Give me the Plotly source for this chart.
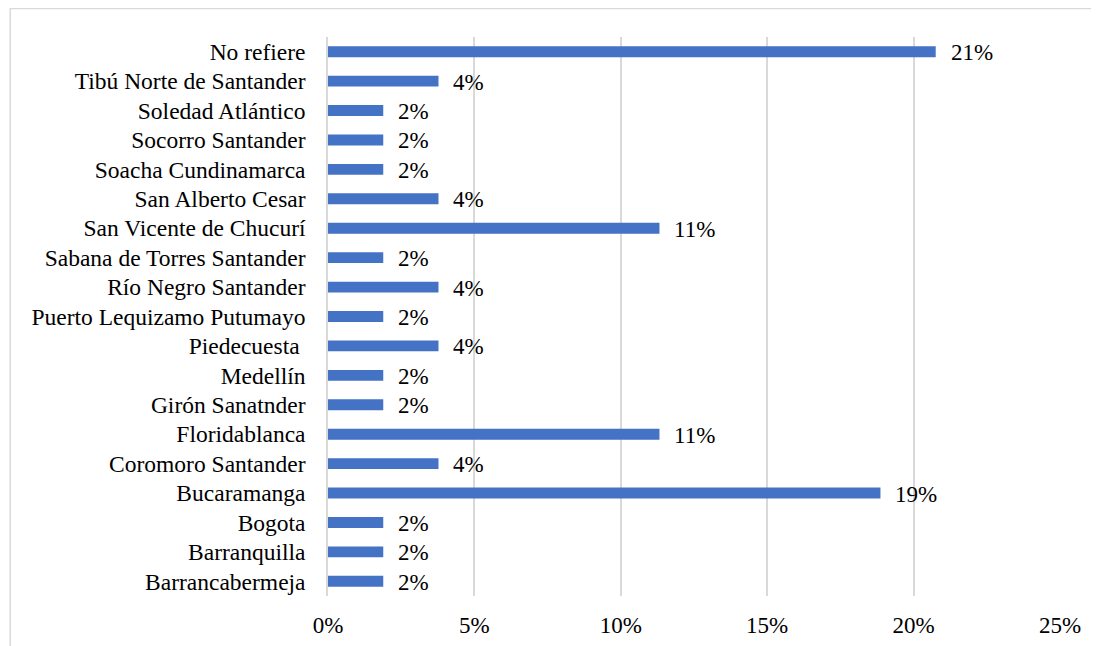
import plotly.graph_objects as go

categories = [
    "Barrancabermeja", "Barranquilla", "Bogota", "Bucaramanga",
    "Coromoro Santander", "Floridablanca", "Girón Sanatnder", "Medellín",
    "Piedecuesta ", "Puerto Lequizamo Putumayo", "Río Negro Santander",
    "Sabana de Torres Santander", "San Vicente de Chucurí", "San Alberto Cesar",
    "Soacha Cundinamarca", "Socorro Santander", "Soledad Atlántico",
    "Tibú Norte de Santander", "No refiere",
]
counts = [1, 1, 1, 10, 2, 6, 1, 1, 2, 1, 2, 1, 6, 2, 1, 1, 1, 2, 11]
total = 53
shares = [c / total for c in counts]
tick_vals = [0, 0.05, 0.10, 0.15, 0.20, 0.25]
tick_text = ["0%", "5%", "10%", "15%", "20%", "25%"]

OFF = 8  # page body margin
W, H = 1099 - OFF, 646 - OFF
L, T = 327.5 - OFF, 37 - OFF
R = W - (1060 - OFF)
B = H - (596 - OFF)
pw, ph = W - L - R, H - T - B

FONT = "'Times New Roman', 'Liberation Serif', 'DejaVu Serif', serif"

fig = go.Figure(go.Bar(
    y=categories, x=shares, orientation="h",
    marker=dict(color="#4472C4", line=dict(width=0)),
    hoverinfo="skip",
))

for cat, v in zip(categories, shares):
    fig.add_annotation(x=v, y=cat, text=f"{round(v*100):d}%", showarrow=False,
                       xanchor="left", yanchor="middle", xshift=13, yshift=-1,
                       font=dict(family=FONT, size=23, color="#000000"))

def px_x(p):
    return (p - OFF - L) / pw

def px_y(p):
    return (H - B - (p - OFF)) / ph

border = "#d9d9d9"
fig.add_shape(type="line", xref="paper", yref="paper",
              x0=px_x(9), x1=px_x(1100), y0=px_y(8.5), y1=px_y(8.5),
              line=dict(color=border, width=1.5))
fig.add_shape(type="line", xref="paper", yref="paper",
              x0=px_x(9.5), x1=px_x(9.5), y0=px_y(8.5), y1=px_y(647),
              line=dict(color=border, width=1.5))

fig.update_layout(
    width=W, height=H,
    margin=dict(l=L, r=R, t=T, b=B, pad=0, autoexpand=False),
    plot_bgcolor="white", paper_bgcolor="white",
    bargap=0.63, showlegend=False,
    font=dict(family=FONT, size=23, color="#000000"),
    xaxis=dict(range=[0, 0.25], tickvals=tick_vals, ticktext=tick_text,
               showgrid=True, gridcolor="#d9d9d9", gridwidth=1.5,
               zeroline=False, showline=False, ticks="", automargin=False,
               ticklabelstandoff=13, fixedrange=True,
               tickfont=dict(family=FONT, size=23, color="#000000")),
    yaxis=dict(categoryorder="array", categoryarray=categories,
               range=[-0.5, len(categories) - 0.5], automargin=False,
               showgrid=False, zeroline=False, showline=True,
               linecolor="#d9d9d9", linewidth=1.5, ticks="",
               ticklabelstandoff=16, fixedrange=True,
               tickfont=dict(family=FONT, size=23.5, color="#000000")),
)

fig.write_html("out.html")
